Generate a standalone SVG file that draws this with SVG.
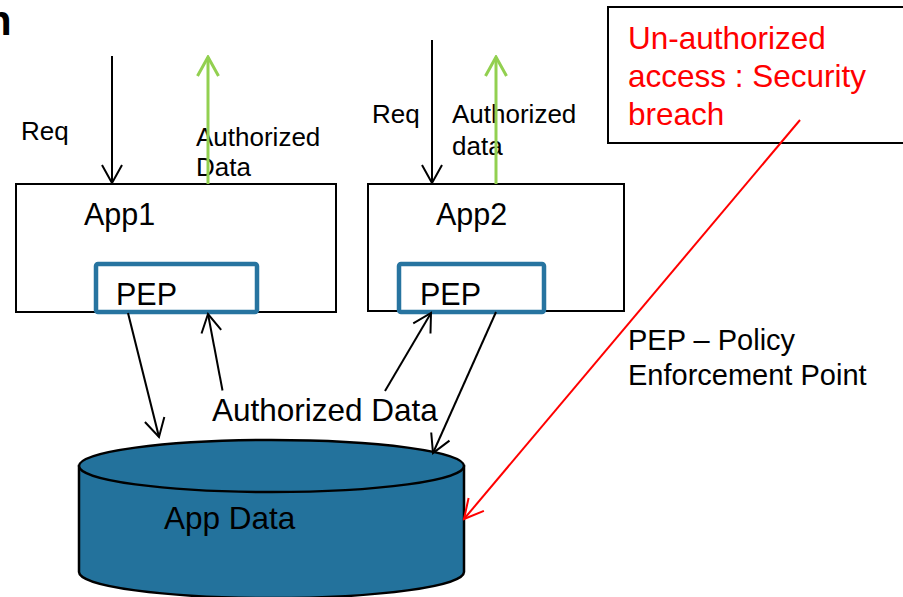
<svg xmlns="http://www.w3.org/2000/svg" width="903" height="597" viewBox="0 0 903 597">
<style>
text{font-family:"Liberation Sans",Arial,sans-serif;fill:#000}
.box{fill:#fff;stroke:#000;stroke-width:2}
.pep{fill:#fff;stroke:#2774A0;stroke-width:4.5}
.cyl{fill:#23729C;stroke:#000;stroke-width:2.5}
.blk{stroke:#000;stroke-width:2;fill:none}
.grn{stroke:#92D050;stroke-width:3;fill:none}
.red{stroke:#FF0000;stroke-width:2;fill:none}
.s25{font-size:26px}
.s30{font-size:30.5px}
.s31{font-size:31.5px}
.s29{font-size:29px}
</style>
<defs>
<marker id="ab" markerUnits="userSpaceOnUse" viewBox="-20 -12 22 24" refX="0" refY="0" markerWidth="22" markerHeight="24" orient="auto"><path d="M-18,-10 L0,0 L-18,10" fill="none" stroke="#000" stroke-width="2"/></marker>
<marker id="ag" markerUnits="userSpaceOnUse" viewBox="-22 -13 24 26" refX="0" refY="0" markerWidth="24" markerHeight="26" orient="auto"><path d="M-19,-10.5 L0,0 L-19,10.5" fill="none" stroke="#92D050" stroke-width="3"/></marker>
<marker id="ar" markerUnits="userSpaceOnUse" viewBox="-22 -13 24 26" refX="0" refY="0" markerWidth="24" markerHeight="26" orient="auto"><path d="M-19,-10 L0,0 L-19,10" fill="none" stroke="#FF0000" stroke-width="2"/></marker>
</defs>
<text x="-14" y="35" font-size="42" font-weight="bold">n</text>
<g id="app1">
<rect class="box" x="16" y="184" width="320" height="128"/>
<text class="s30" x="84" y="225">App1</text>
</g>
<g id="app2">
<rect class="box" x="368" y="184" width="256" height="127"/>
<text class="s30" x="436" y="225">App2</text>
</g>
<g id="pep1">
<rect class="pep" x="96" y="264" width="161" height="48" rx="2"/>
<text class="s30" x="116" y="305">PEP</text>
</g>
<g id="pep2">
<rect class="pep" x="399" y="264" width="145" height="48" rx="2"/>
<text class="s30" x="420" y="305">PEP</text>
</g>
<g id="appdata">
<path class="cyl" d="M79,466 L79,572 A192.5,26 0 0 0 464,572 L464,466 Z"/>
<ellipse class="cyl" cx="271.5" cy="466" rx="192.5" ry="26"/>
<text class="s31" x="164" y="529">App Data</text>
</g>
<g id="breach">
<rect x="608" y="7" width="310" height="136" fill="#fff" stroke="#000" stroke-width="2"/>
<text class="s31" x="628" y="49" style="fill:#FF0000">Un-authorized</text>
<text class="s31" x="628" y="87" style="fill:#FF0000">access : Security</text>
<text class="s31" x="628" y="125" style="fill:#FF0000">breach</text>
</g>
<g id="labels">
<text class="s25" x="21" y="140">Req</text>
<text class="s25" x="196" y="146">Authorized</text>
<text class="s25" x="196" y="176">Data</text>
<text class="s25" x="372" y="123">Req</text>
<text class="s25" x="452" y="123">Authorized</text>
<text class="s25" x="452" y="155">data</text>
<text class="s31" x="212" y="421">Authorized Data</text>
<text class="s29" x="628" y="350">PEP – Policy</text>
<text class="s29" x="628" y="385">Enforcement Point</text>
</g>
<g id="connectors">
<line class="blk" x1="112" y1="56" x2="112" y2="183" marker-end="url(#ab)"/>
<line class="grn" x1="208" y1="184" x2="208" y2="57" marker-end="url(#ag)"/>
<line class="blk" x1="432" y1="40" x2="432" y2="183" marker-end="url(#ab)"/>
<line class="grn" x1="496" y1="184" x2="496" y2="57" marker-end="url(#ag)"/>
<line class="blk" x1="128" y1="313" x2="159" y2="437" marker-end="url(#ab)"/>
<line class="blk" x1="222.5" y1="390.5" x2="208" y2="314" marker-end="url(#ab)"/>
<line class="blk" x1="385" y1="391" x2="431" y2="313" marker-end="url(#ab)"/>
<line class="blk" x1="496" y1="312" x2="433" y2="453" marker-end="url(#ab)"/>
<line class="red" x1="800" y1="120" x2="464" y2="519" marker-end="url(#ar)"/>
</g>
</svg>
